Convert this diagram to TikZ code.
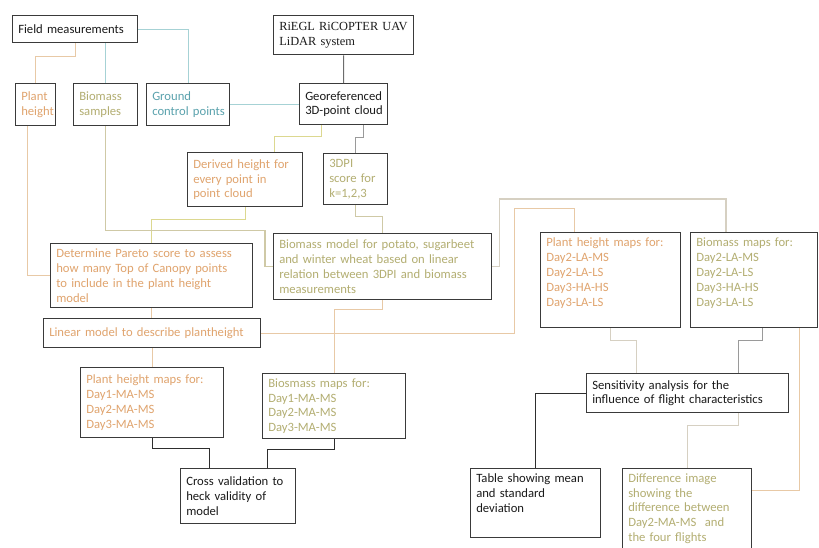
\documentclass[tikz,border=0pt]{standalone}
\usepackage{fontspec}
\setmainfont{Carlito}
\newfontfamily\seriffont{Liberation Serif}
\usepackage{xcolor}
\usetikzlibrary{positioning,calc}
\definecolor{ink}{HTML}{1A1A1A}
\definecolor{boxline}{HTML}{3A3A3A}
\definecolor{tantext}{HTML}{E0A46E}
\definecolor{olivetext}{HTML}{B3AE72}
\definecolor{tealtext}{HTML}{5AA2AD}
\definecolor{tanline}{HTML}{E8C9A6}
\definecolor{tealline}{HTML}{A6D2D5}
\definecolor{yelline}{HTML}{DCD890}
\definecolor{khakiline}{HTML}{CFC9A6}
\definecolor{grayline}{HTML}{9A9A9A}
\definecolor{paleline}{HTML}{D6D0C2}
\definecolor{darkline}{HTML}{2E2E2E}
\hyphenpenalty=10000
\exhyphenpenalty=10000
\tikzset{
  flowbox/.style={draw=boxline,fill=white,line width=0.9pt,anchor=north west,
                  inner xsep=4pt,inner ysep=3.5pt,align=left,text=ink,
                  font=\fontsize{9}{10.5}\selectfont},
  tanbox/.style={flowbox,text=tantext},
  olivebox/.style={flowbox,text=olivetext},
  tealbox/.style={flowbox,text=tealtext},
  toptext/.style={text height=6.7pt,text depth=#1},
  link/.style={line width=0.8pt}
}

\begin{document}
\begin{tikzpicture}[x=0.025cm,y=-0.025cm]
  \useasboundingbox (0,0) rectangle (819,547);

  % inputs
  \node[flowbox,text width=2.844cm,minimum height=0.675cm] (field) at (12,15) {Field measurements};
  \node[flowbox,text width=3.219cm,minimum height=0.975cm,
        font=\seriffont\fontsize{8.8}{10.6}\selectfont] (riegl) at (273,15) {RiEGL RiCOPTER UAV\\LiDAR system};
  \node[tanbox,text width=0.719cm,minimum height=1.05cm] (plant) at (15,83) {Plant\\height};
  \node[olivebox,text width=1.319cm,minimum height=1.05cm] (biosamp) at (73,83) {Biomass\\samples};
  \node[tealbox,text width=1.794cm,minimum height=1.05cm] (gcp) at (146,83) {Ground\\\mbox{control points}};
  \node[flowbox,text width=1.919cm,minimum height=1.025cm] (georef) at (299,83) {\mbox{Georeferenced}\\\mbox{3D-point cloud}};

  % processing
  \node[tanbox,text width=2.594cm,minimum height=1.35cm] (derived) at (187,152)
    {Derived height for\\every point in\\point cloud};
  \node[olivebox,text width=1.319cm,minimum height=1.275cm] (dpi) at (323,153)
    {3DPI\\score for\\k=1,2,3};
  \node[tanbox,text width=4.769cm,minimum height=1.6cm] (pareto) at (50,243)
    {Determine Pareto score to assess\\how many Top of Canopy points\\to include in the plant height\\model};
  \node[olivebox,text width=5.169cm,minimum height=1.65cm] (biomod) at (273,233)
    {\mbox{Biomass model for potato, sugarbeet}\\and winter wheat based on linear\\\mbox{relation between 3DPI and biomass}\\measurements};
  \node[tanbox,text width=5.144cm,minimum height=0.725cm] (linear) at (43,318)
    {Linear model to describe plantheight};

  % maps
  \node[tanbox,text width=3.294cm,minimum height=1.75cm] (phmapL) at (80,367)
    {Plant height maps for:\\Day1-MA-MS\\Day2-MA-MS\\Day3-MA-MS};
  \node[olivebox,text width=3.294cm,minimum height=1.6cm] (bmmapL) at (262,373)
    {Biosmass maps for:\\Day1-MA-MS\\Day2-MA-MS\\Day3-MA-MS};
  \node[tanbox,text width=3.219cm,toptext=53.9pt] (phmapR) at (540,232)
    {Plant height maps for:\\Day2-LA-MS\\Day2-LA-LS\\Day3-HA-HS\\Day3-LA-LS};
  \node[olivebox,text width=2.894cm,toptext=53.9pt] (bmmapR) at (690,232)
    {Biomass maps for:\\Day2-LA-MS\\Day2-LA-LS\\Day3-HA-HS\\Day3-LA-LS};

  % outputs
  \node[flowbox,text width=2.594cm,minimum height=1.375cm] (crossval) at (180,468)
    {Cross validation to\\heck validity of\\model};
  \node[flowbox,text width=4.769cm,minimum height=0.975cm] (sens) at (586,373)
    {Sensitivity analysis for the\\influence of flight characteristics};
  \node[flowbox,text width=2.969cm,toptext=35.4pt] (table) at (470,468)
    {Table showing mean\\and standard\\deviation};
  \node[olivebox,text width=2.944cm,minimum height=1.975cm] (diff) at (622,468)
    {Difference image\\showing the\\difference between\\Day2-MA-MS~ and\\the four flights};

  % connectors
  \draw[link,tanline] (field.south) -- ++(0,13) -| (plant.north);
  \draw[link,tealline] (field.south -| biosamp.north) -- (biosamp.north);
  \draw[link,tealline] (field.east) -| (gcp.north);
  \draw[link,grayline!70!black] (riegl.south) -- (georef.north);
  \draw[link,tealline] (gcp.east) -- (gcp.east -| georef.west);

  \draw[link,yelline] ($(georef.south west)!0.5!(georef.south)$) -- ++(0,11)
    -| ($(derived.north)!0.5!(derived.north east)$);
  \draw[link,grayline] ($(georef.south)!0.45!(georef.south east)$) -- ++(0,12) -| (dpi.north);
  \draw[link,yelline] (derived.south) -- ++(0,12) -| (pareto.north);
  \draw[link,khakiline] (biosamp.south) |- ($(biomod.west)+(-8,-36)$) |- (biomod.west);
  \draw[link,tanline] ($(plant.south west)!0.3!(plant.south east)$) |- (pareto.west);
  \draw[link,khakiline] (dpi.south) -- ++(0,11) -| (biomod.north);
  \draw[link,tanline] (pareto.south) -- (pareto.south |- linear.north);

  \draw[link,tanline] (linear.east) -| ($(biomod.east)+(22,-58)$)
    -| ($(phmapR.north west)!0.243!(phmapR.north east)$);
  \draw[link,paleline] (biomod.east) -- ++(7,0)
    |- ($(bmmapR.north west)!0.28!(bmmapR.north east)+(0,-33)$)
    -- ($(bmmapR.north west)!0.28!(bmmapR.north east)$);
  \draw[link,tanline] (biomod.south) -- ++(0,9) -| (bmmapL.north);
  \draw[link,tanline] (linear.south) -- (linear.south |- phmapL.north);

  \draw[link,darkline] (phmapL.south) -- ++(0,10) -| ($(crossval.north west)!0.25!(crossval.north east)$);
  \draw[link,darkline] (bmmapL.south) -- ++(0,10) -| ($(crossval.north west)!0.75!(crossval.north east)$);

  \draw[link,paleline] (phmapR.south) -- ++(0,12) -| ($(sens.north west)!0.25!(sens.north east)$);
  \draw[link,grayline] ($(bmmapR.south west)!0.567!(bmmapR.south east)$) -- ++(0,12)
    -| ($(sens.north west)!0.75!(sens.north east)$);
  \draw[link,tanline] ($(bmmapR.south west)!0.85!(bmmapR.south east)$)
    |- ($(diff.north east)!0.28!(diff.south east)$);
  \draw[link,darkline] (sens.west) -| (table.north);
  \draw[link,paleline] ($(sens.south west)!0.75!(sens.south east)$) -- ++(0,12) -| (diff.north);
\end{tikzpicture}
\end{document}
